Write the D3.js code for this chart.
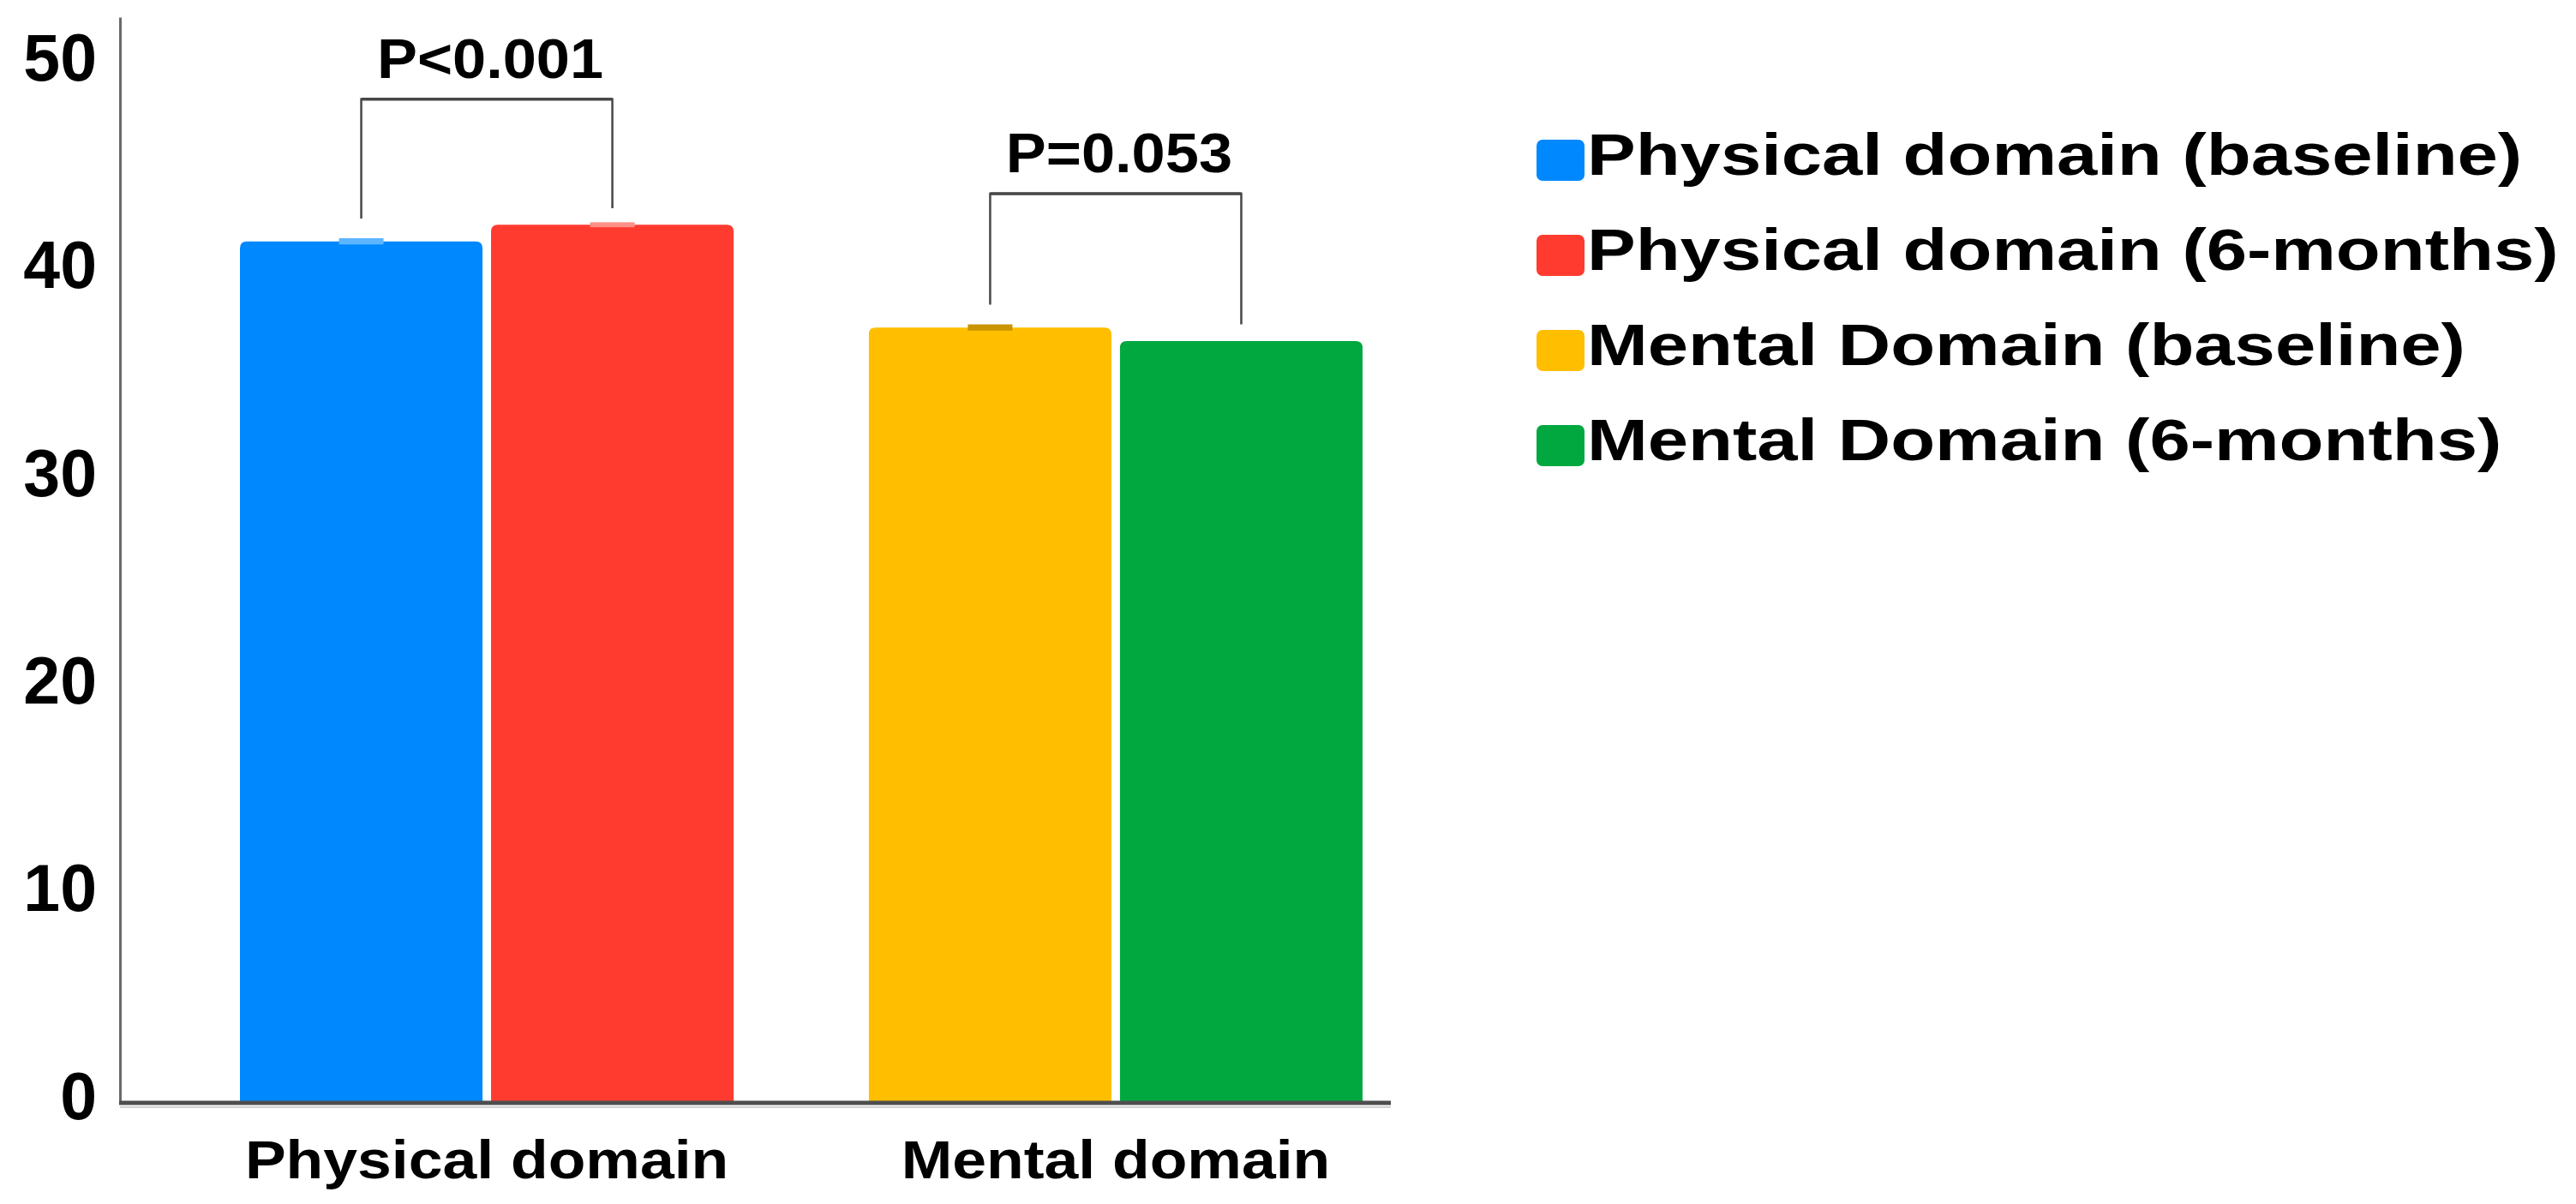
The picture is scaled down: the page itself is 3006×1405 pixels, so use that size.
<!DOCTYPE html>
<html>
<head>
<meta charset="utf-8">
<script src="https://cdn.jsdelivr.net/npm/d3@7"></script>
<style>
  body { margin: 0; background: #fff; }
  text { font-family: "Liberation Sans", Arial, sans-serif; font-weight: bold; fill: #000; }
</style>
</head>
<body>
<div id="chart"></div>
<script>
// data
var groups = ["Physical domain", "Mental domain"];
var seriesNames = ["Physical domain (baseline)", "Physical domain (6-months)",
                   "Mental Domain (baseline)", "Mental Domain (6-months)"];
var barGroups = ["Physical domain", "Physical domain", "Mental domain", "Mental domain"];
var barValues = [41.5, 42.3, 37.35, 36.7];
var barErrors = [0.15, 0.12, 0.15, 0];
var pLabels = ["P<0.001", "P=0.053"];
var bracketTops = [48.35, 43.8];
var yTicks = [0, 10, 20, 30, 40, 50];

var colors = ["#0088ff", "#ff3b2f", "#ffbe00", "#00a83f"];
var capColors = ["#5cb6ff", "#ff9088", "#c89400", "#00a83f"];

var W = 3006, H = 1405;
var axisX = 140, axisRight = 1623;

var svg = d3.select("#chart").append("svg")
    .attr("width", W)
    .attr("height", H);

var y = d3.scaleLinear()
    .domain([0, 52.3])
    .range([1287, 20]);

var x0 = d3.scaleBand()
    .domain(groups)
    .range([280, 1590])
    .paddingInner(0.215);

var x1 = d3.scaleBand()
    .domain([0, 1])
    .range([0, x0.bandwidth()])
    .paddingInner(0.034);

var bars = barValues.map(function(v, i) {
    return {name: seriesNames[i], group: barGroups[i], value: v, err: barErrors[i], k: i % 2, i: i};
});

function topRounded(x, yy, w, h, r) {
    return "M" + x + "," + (yy + h) + "V" + (yy + r) +
        "Q" + x + "," + yy + " " + (x + r) + "," + yy +
        "H" + (x + w - r) +
        "Q" + (x + w) + "," + yy + " " + (x + w) + "," + (yy + r) +
        "V" + (yy + h) + "Z";
}

// bars
svg.append("g").selectAll("path")
    .data(bars)
    .enter().append("path")
    .attr("d", function(d) {
        var bx = x0(d.group) + x1(d.k);
        return topRounded(bx, y(d.value), x1.bandwidth(), y(0) - y(d.value), 8);
    })
    .style("fill", function(d) { return colors[d.i]; });

// tiny error caps
svg.append("g").selectAll("rect")
    .data(bars.filter(function(d) { return d.err > 0; }))
    .enter().append("rect")
    .attr("x", function(d) { return x0(d.group) + x1(d.k) + x1.bandwidth() / 2 - 26; })
    .attr("width", 52)
    .attr("y", function(d) { return y(d.value + d.err); })
    .attr("height", function(d) { return y(d.value - d.err) - y(d.value + d.err); })
    .style("fill", function(d) { return capColors[d.i]; });

// y axis
var yAxis = svg.append("g")
    .attr("transform", "translate(" + axisX + ",0)")
    .call(d3.axisLeft(y).tickValues(yTicks).tickSize(0).tickSizeOuter(0).tickPadding(27));
yAxis.select(".domain").attr("stroke", "#6a6a6a").attr("stroke-width", 3);
yAxis.selectAll("text")
    .attr("font-size", 77)
    .attr("font-family", null)
    .attr("dy", 18);

// baseline
svg.append("line")
    .attr("x1", axisX).attr("x2", axisRight)
    .attr("y1", y(0) + 5).attr("y2", y(0) + 5)
    .attr("stroke", "#d0d0d0").attr("stroke-width", 2);
svg.append("line")
    .attr("x1", axisX - 1).attr("x2", axisRight)
    .attr("y1", y(0)).attr("y2", y(0))
    .attr("stroke", "#4e4e4e").attr("stroke-width", 5);

// x labels
var xAxis = svg.append("g")
    .attr("transform", "translate(0," + y(0) + ")")
    .call(d3.axisBottom(x0).tickSize(0).tickPadding(0));
xAxis.select(".domain").remove();
xAxis.selectAll("text")
    .attr("font-size", 63)
    .attr("font-family", null)
    .attr("y", 88)
    .attr("dy", null)
    .attr("data-stretch", 1.135);

// significance brackets
var legGaps = [1.1, 0.8];
groups.forEach(function(g, gi) {
    var xa = x0(g) + x1(0) + x1.bandwidth() / 2,
        xb = x0(g) + x1(1) + x1.bandwidth() / 2,
        va = barValues[gi * 2], vb = barValues[gi * 2 + 1],
        top = y(bracketTops[gi]);
    svg.append("path")
        .attr("d", "M" + xa + "," + y(va + legGaps[0]) + "V" + top + "H" + xb + "V" + y(vb + legGaps[1]))
        .attr("fill", "none")
        .attr("stroke", "#474747")
        .attr("stroke-width", 2.5);
    svg.append("path")
        .attr("d", "M" + xa + "," + top + "H" + xb)
        .attr("stroke", "#474747")
        .attr("stroke-width", 3.5);
    svg.append("text")
        .attr("x", (xa + xb) / 2 + 4)
        .attr("y", top - 25)
        .attr("text-anchor", "middle")
        .attr("font-size", 64)
        .attr("data-stretch", 1.1)
        .text(pLabels[gi]);
});

// legend
var legend = svg.append("g").attr("transform", "translate(1793,163)");
var rows = legend.selectAll("g")
    .data(seriesNames)
    .enter().append("g")
    .attr("transform", function(d, i) { return "translate(0," + i * 111 + ")"; });
rows.append("rect")
    .attr("width", 56).attr("height", 48).attr("rx", 7)
    .style("fill", function(d, i) { return colors[i]; });
rows.append("text")
    .attr("x", 59).attr("y", 41)
    .attr("font-size", 68)
    .attr("data-stretch", 1.25)
    .text(function(d) { return d; });

// the original type is drawn a bit wider than Arial
svg.selectAll("text[data-stretch]").each(function() {
    var f = +this.getAttribute("data-stretch");
    var w = this.getComputedTextLength();
    d3.select(this).attr("textLength", w * f).attr("lengthAdjust", "spacingAndGlyphs");
});
</script>
</body>
</html>
